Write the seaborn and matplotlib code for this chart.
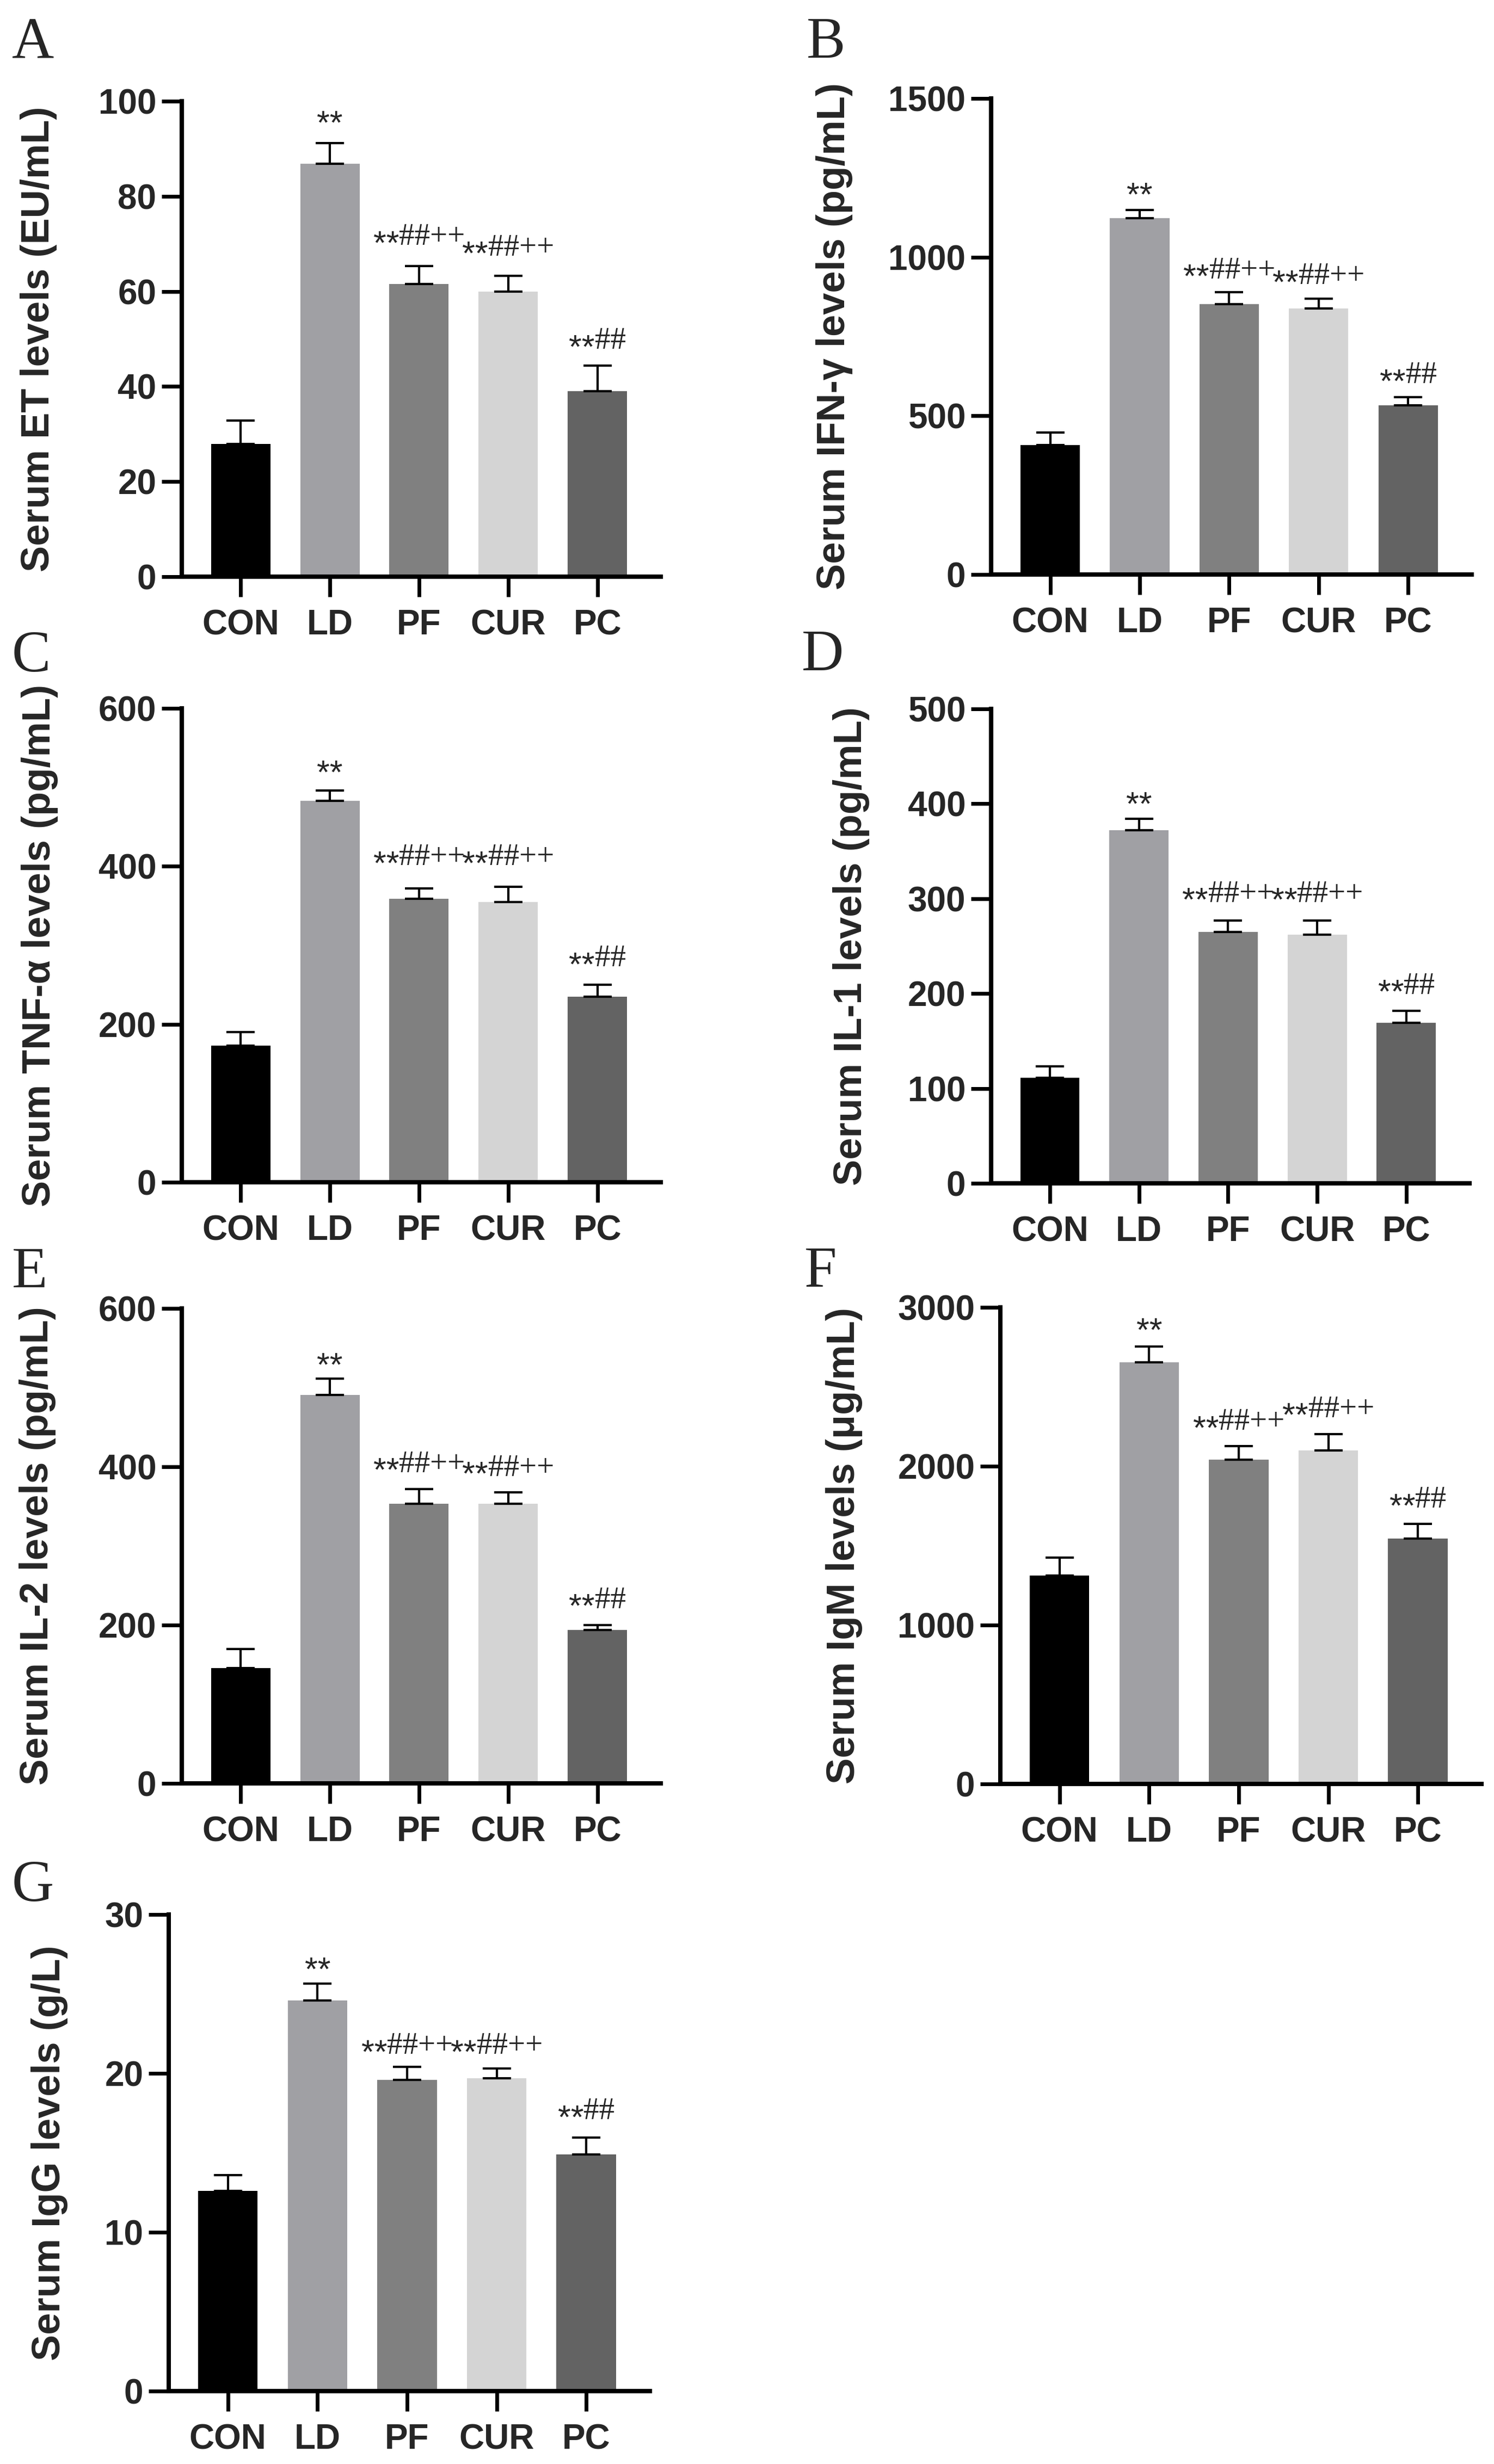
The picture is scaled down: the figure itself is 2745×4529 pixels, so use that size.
import numpy as np
import pandas as pd
import matplotlib
matplotlib.use("Agg")
import matplotlib.pyplot as plt
import seaborn as sns

# groups and bar colours (same for every panel)
groups = ["CON", "LD", "PF", "CUR", "PC"]
bar_colors = ["#000000", "#a0a0a4", "#808080", "#d4d4d4", "#636363"]
marks = ["", "**", "**##++", "**##++", "**##"]

# values: mean, upper error, height of the significance marks
et_mean = [27.9, 86.8, 61.5, 60.0, 39.0]
et_err = [4.9, 4.4, 3.8, 3.3, 5.4]
et_mark = [None, 96.3, 71.0, 68.8, 49.2]

ifn_mean = [408, 1123, 852, 839, 533]
ifn_err = [40, 25, 38, 31, 26]
ifn_mark = [None, 1210, 952, 934, 622]

tnf_mean = [173, 483, 359, 355, 235]
tnf_err = [17, 13, 13, 19, 15]
tnf_mark = [None, 524, 409, 409, 281]

il1_mean = [111, 372, 265, 262, 169]
il1_err = [12, 12, 12, 15, 13]
il1_mark = [None, 404, 303, 303, 206]

il2_mean = [146, 491, 353, 353, 194]
il2_err = [24, 20, 19, 15, 6]
il2_mark = [None, 534, 401, 396, 229]

igm_mean = [1311, 2653, 2040, 2098, 1545]
igm_err = [113, 101, 88, 103, 91]
igm_mark = [None, 2882, 2266, 2347, 1776]

igg_mean = [12.6, 24.6, 19.6, 19.7, 14.9]
igg_err = [1.0, 1.05, 0.8, 0.6, 1.06]
igg_mark = [None, 26.8, 21.6, 21.6, 17.5]

panel_letters = ["A", "B", "C", "D", "E", "F", "G"]
ylabels = ["Serum ET levels (EU/mL)", "Serum IFN-\u03b3 levels (pg/mL)",
           "Serum TNF-\u03b1 levels (pg/mL)", "Serum IL-1 levels (pg/mL)",
           "Serum IL-2 levels (pg/mL)", "Serum IgM levels (\u03bcg/mL)",
           "Serum IgG levels (g/L)"]
y_max = [100, 1500, 600, 500, 600, 3000, 30]
y_step = [20, 500, 200, 100, 200, 1000, 10]
means = [et_mean, ifn_mean, tnf_mean, il1_mean, il2_mean, igm_mean, igg_mean]
errs = [et_err, ifn_err, tnf_err, il1_err, il2_err, igm_err, igg_err]
mark_ys = [et_mark, ifn_mark, tnf_mark, il1_mark, il2_mark, igm_mark, igg_mark]

# layout in pixels: axes (left, right, top, bottom), letter (x, baseline), ylabel baseline x
W, H, DPI = 2745, 4529, 100
axes_px = [(334, 1214, 186, 1060), (1821, 2704, 181, 1056),
           (334, 1214, 1302, 2173), (1821, 2700, 1303, 2175),
           (334, 1214, 2405, 3278), (1838, 2722, 2403, 3279),
           (310, 1194, 3519, 4395)]
letter_px = [(22, 106), (1482, 106), (22, 1234), (1473, 1232),
             (22, 2366), (1478, 2365), (22, 3494)]
ylabel_x = [90, 1552, 92, 1583, 88, 1570, 110]

sns.set_style("ticks")
plt.rcParams["font.family"] = ["Liberation Sans", "DejaVu Sans"]

fig = plt.figure(figsize=(W / DPI, H / DPI), dpi=DPI)
renderer = fig.canvas.get_renderer()

star_font = dict(family="Liberation Sans", fontsize=44)
sym_font = dict(family="Liberation Serif", fontsize=41)
px2pt = 72.0 / DPI


def add_mark(ax, x, y, text):
    # "**" in a sans font, "##++" in a serif font, centred on the bar
    parts = [(text[:2], star_font, -27), (text[2:], sym_font, -11)]
    parts = [p for p in parts if p[0]]
    widths = []
    for s, fp, _ in parts:
        t = ax.text(0, 0, s, **fp)
        widths.append(t.get_window_extent(renderer=renderer).width)
        t.remove()
    cur = -sum(widths) / 2
    for (s, fp, dy), w in zip(parts, widths):
        ax.annotate(s, (x, y), xytext=(cur * px2pt, dy * px2pt),
                    textcoords="offset points", ha="left", va="baseline",
                    annotation_clip=False, **fp)
        cur += w


for i in range(7):
    left, right, top, bottom = axes_px[i]
    ax = fig.add_axes([left / W, 1 - bottom / H, (right - left) / W, (bottom - top) / H])

    df = pd.DataFrame({"group": groups, "value": means[i]})
    sns.barplot(data=df, x="group", y="value", hue="group", order=groups,
                palette=bar_colors, legend=False, width=0.665, saturation=1,
                errorbar=None, linewidth=0, ax=ax)
    ax.errorbar(np.arange(5), means[i], yerr=[np.zeros(5), errs[i]], fmt="none",
                ecolor="black", elinewidth=3, capsize=19, capthick=3,
                zorder=3, clip_on=False)

    for j in range(5):
        if marks[j]:
            add_mark(ax, j, mark_ys[i][j], marks[j])

    ax.set_xlim(-0.66, 4.71)
    ax.set_ylim(0, y_max[i])
    ticks = np.arange(0, y_max[i] + y_step[i] / 2, y_step[i])
    ax.set_yticks(ticks, labels=[f"{t:g}" for t in ticks], fontsize=46, fontweight="bold")
    ax.set_xticks(range(5), labels=groups, fontsize=46, fontweight="bold")
    ax.set_xlabel("")
    ax.set_ylabel(ylabels[i], fontsize=52, fontweight="bold", va="baseline")
    ax.yaxis.set_label_coords((ylabel_x[i] - left) / (right - left), 0.5)

    sns.despine(ax=ax)
    for side in ["left", "bottom"]:
        ax.spines[side].set_linewidth(5.8)
        ax.spines[side].set_color("black")
    ax.tick_params(axis="both", length=26.6, width=5, color="black", direction="out")
    ax.tick_params(axis="x", pad=16)
    ax.tick_params(axis="y", pad=7)

    lx, ly = letter_px[i]
    fig.text(lx / W, 1 - ly / H, panel_letters[i], family="Liberation Serif",
             fontsize=77, ha="left", va="baseline")

fig.savefig("out.png", dpi=DPI)
